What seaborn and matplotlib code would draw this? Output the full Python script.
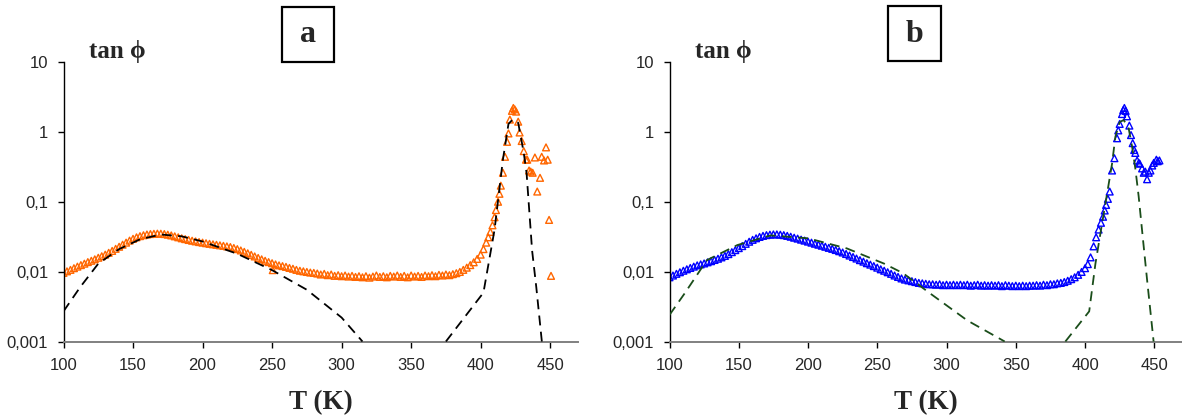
import numpy as np
import pandas as pd
import matplotlib
matplotlib.use("Agg")
import matplotlib.pyplot as plt
from matplotlib.patches import Rectangle
from matplotlib.ticker import NullLocator
import seaborn as sns

# --- data ---
temp_grid = np.arange(100, 400.1, 2.5)

tan_a = [0.0096, 0.0101, 0.0106, 0.0112, 0.0118, 0.0124, 0.0130, 0.0137, 0.0143, 0.0150,
         0.0158, 0.0166, 0.0175, 0.0186, 0.0198, 0.0212, 0.0227, 0.0243, 0.0260, 0.0278,
         0.0295, 0.0310, 0.0322, 0.0332, 0.0340, 0.0345, 0.0348, 0.0350, 0.0349, 0.0345,
         0.0338, 0.0330, 0.0320, 0.0310, 0.0300, 0.0292, 0.0284, 0.0277, 0.0271, 0.0265,
         0.0260, 0.0255, 0.0250, 0.0246, 0.0242, 0.0238, 0.0234, 0.0230, 0.0225, 0.0218,
         0.0210, 0.0201, 0.0192, 0.0183, 0.0174, 0.0165, 0.0157, 0.0150, 0.0143, 0.0137,
         0.0132, 0.0127, 0.0123, 0.0120, 0.0117, 0.0113, 0.0110, 0.0106, 0.0103, 0.0101,
         0.0099, 0.0097, 0.0096, 0.0094, 0.0091, 0.0093, 0.0089, 0.0091, 0.0087, 0.0089,
         0.0086, 0.0088, 0.0085, 0.0087, 0.0084, 0.0086, 0.0083, 0.0086, 0.0082, 0.0085,
         0.0088, 0.0084, 0.0086, 0.0083, 0.0087, 0.0085, 0.0088, 0.0084, 0.0087, 0.0083,
         0.0088, 0.0085, 0.0087, 0.0084, 0.0088, 0.0086, 0.0089, 0.0086, 0.0090, 0.0088,
         0.0091, 0.0089, 0.0092, 0.0095, 0.0099, 0.0106, 0.0114, 0.0124, 0.0136, 0.0152,
         0.0175]
# peak region and stray points of sample a
temp_a_peak = [250.5, 402, 404, 405.5, 407, 408.5, 410, 411, 412.5, 413.5, 414.5, 416, 417.5,
               419, 420, 421, 422.5, 423.5, 424.5, 425.5, 427, 428, 429.5, 431, 432.6,
               433.5, 434.8, 436, 437.4, 439, 440.7, 442.7, 443.9, 445.6, 447, 448.2,
               449.2, 450.6]
tan_a_peak = [0.0105, 0.021, 0.026, 0.031, 0.037, 0.046, 0.060, 0.076, 0.10, 0.13, 0.17, 0.26,
              0.44, 0.72, 0.95, 1.5, 2.0, 2.2, 2.1, 1.95, 1.4, 0.98, 0.74, 0.53, 0.40,
              0.40, 0.28, 0.27, 0.26, 0.43, 0.14, 0.22, 0.44, 0.39, 0.60, 0.40,
              0.055, 0.0087]

tan_b = [0.0083, 0.0088, 0.0093, 0.0098, 0.0103, 0.0108, 0.0113, 0.0118, 0.0123, 0.0127,
         0.0131, 0.0136, 0.0141, 0.0147, 0.0153, 0.0160, 0.0168, 0.0178, 0.0190, 0.0203,
         0.0217, 0.0232, 0.0250, 0.0268, 0.0285, 0.0300, 0.0314, 0.0325, 0.0333, 0.0338,
         0.0341, 0.0341, 0.0338, 0.0333, 0.0325, 0.0316, 0.0306, 0.0297, 0.0287, 0.0278,
         0.0269, 0.0260, 0.0251, 0.0243, 0.0235, 0.0227, 0.0219, 0.0212, 0.0204, 0.0196,
         0.0188, 0.0179, 0.0170, 0.0162, 0.0154, 0.0146, 0.0139, 0.0132, 0.0126, 0.0120,
         0.0114, 0.0108, 0.0103, 0.0098, 0.0093, 0.0088, 0.0084, 0.0080, 0.0077, 0.0075,
         0.0073, 0.0071, 0.0069, 0.0068, 0.0067, 0.0066, 0.0066, 0.0065, 0.0066, 0.0064,
         0.0065, 0.0064, 0.0065, 0.0064, 0.0065, 0.0064, 0.0065, 0.0063, 0.0064, 0.0065,
         0.0063, 0.0064, 0.0063, 0.0064, 0.0063, 0.0064, 0.0062, 0.0064, 0.0063, 0.0062,
         0.0063, 0.0062, 0.0063, 0.0062, 0.0063, 0.0063, 0.0064, 0.0063, 0.0065, 0.0064,
         0.0066, 0.0066, 0.0068, 0.0069, 0.0071, 0.0074, 0.0078, 0.0083, 0.0090, 0.0099,
         0.0112]
temp_b_peak = [402, 404, 406.2, 408, 409.8, 411.5, 413, 414.2, 415.2, 416.5, 417.8, 419.5,
               421.2, 423.1, 424, 425, 426.7, 427.6, 428.4, 429.3, 430.3, 432, 433.2, 434.4,
               435.5, 436.3, 437.6, 438.8, 439.5, 441.2, 442.4, 443.5, 444.8, 446, 447.2,
               448.5, 449.6, 451.5, 452.5, 453.7]
tan_b_peak = [0.0128, 0.016, 0.023, 0.031, 0.040, 0.050, 0.061, 0.075, 0.090, 0.11, 0.14, 0.28,
              0.42, 0.81, 1.05, 1.3, 1.8, 2.05, 2.2, 2.0, 1.67, 1.23, 0.90, 0.69,
              0.55, 0.50, 0.39, 0.36, 0.35, 0.30, 0.26, 0.27, 0.21, 0.26, 0.28,
              0.33, 0.36, 0.40, 0.38, 0.39]

# fitted curves (dashed)
fit_a_low_t = [100, 112, 125, 140, 155, 170, 185, 200, 225, 250, 275, 300, 315]
fit_a_low_v = [0.0027, 0.006, 0.013, 0.021, 0.029, 0.034, 0.032, 0.027, 0.018, 0.0105,
               0.0055, 0.0022, 0.001]
fit_a_high_t = [375, 402, 410, 416, 420, 423, 427, 431, 433, 437, 440, 444]
fit_a_high_v = [0.001, 0.005, 0.04, 0.4, 1.3, 1.5, 1.35, 0.5, 0.26, 0.02, 0.006, 0.001]

fit_b_low_t = [100, 111, 127, 149, 173, 200, 228, 255, 268.6, 288, 315, 342]
fit_b_low_v = [0.0024, 0.0049, 0.0146, 0.024, 0.033, 0.030, 0.0215, 0.013, 0.0095,
               0.0049, 0.002, 0.001]
fit_b_high_t = [385.8, 403, 407.5, 412.3, 415.9, 419.5, 421.9, 425, 427.9, 431.5, 434,
                436.3, 438.7, 441.9, 444.8, 449.5]
fit_b_high_v = [0.001, 0.0027, 0.013, 0.049, 0.13, 0.35, 0.85, 1.38, 1.48, 1.12, 0.61,
                0.3, 0.12, 0.028, 0.0076, 0.001]

y_ticks = [0.001, 0.01, 0.1, 1, 10]
y_tick_labels = ["0,001", "0,01", "0,1", "1", "10"]
x_ticks = [100, 150, 200, 250, 300, 350, 400, 450]

sns.set_style("ticks")
plt.rcParams["font.family"] = ["Liberation Sans", "DejaVu Sans"]
SERIF = ["Liberation Serif", "DejaVu Serif"]


def draw_panel(fig, ax, temps, values, fits, marker_color, line_color, letter, box):
    data = pd.DataFrame({"T": temps, "tan": values})
    ax.set_yscale("log")
    sns.scatterplot(data=data, x="T", y="tan", ax=ax, marker="^", s=24,
                    color=marker_color, facecolor="none", edgecolor=marker_color,
                    linewidth=1.0, zorder=2, legend=False)
    for ft, fv in fits:
        sns.lineplot(x=ft, y=fv, ax=ax, color=line_color, lw=1.3,
                     linestyle=(0, (5.5, 3.5)), errorbar=None, zorder=3)

    ax.set_xlim(100, 470)
    ax.set_ylim(0.001, 10)
    ax.set_xticks(x_ticks)
    ax.set_yticks(y_ticks, y_tick_labels)
    ax.yaxis.set_minor_locator(NullLocator())
    ax.tick_params(axis="both", labelsize=12, direction="out", color="black", width=1)
    ax.tick_params(axis="x", length=4, pad=8)
    ax.tick_params(axis="y", length=4, pad=7)
    ax.set_xlabel("")
    ax.set_ylabel("")
    sns.despine(ax=ax)
    ax.spines["left"].set_color("black")
    ax.spines["left"].set_linewidth(1.0)
    ax.spines["bottom"].set_color("#808080")
    ax.spines["bottom"].set_linewidth(1.4)

    ax.text(0.05, 1.014, "tan ϕ", transform=ax.transAxes, family=SERIF,
            fontweight="bold", fontsize=18, va="baseline", ha="left")
    ax.text(0.5, -0.2415, "T (K)", transform=ax.transAxes, family=SERIF,
            fontweight="bold", fontsize=19.5, va="baseline", ha="center")

    bx, by, bw, bh = box
    fig.patches.append(Rectangle((bx, by), bw, bh, transform=fig.transFigure,
                                 fill=False, edgecolor="black", lw=1.6))
    fig.text(bx + bw / 2, 1 - 41.7 / 419, letter, family=SERIF, fontweight="bold",
             fontsize=23, ha="center", va="baseline")


fig = plt.figure(figsize=(11.82, 4.19), dpi=100)
ax_a = fig.add_axes([63.5 / 1182, 1 - 341.5 / 419, 514.5 / 1182, 279.5 / 419])
ax_b = fig.add_axes([669.5 / 1182, 1 - 341.5 / 419, 512.5 / 1182, 279.5 / 419])

draw_panel(fig, ax_a, list(temp_grid) + temp_a_peak, tan_a + tan_a_peak,
           [(fit_a_low_t, fit_a_low_v), (fit_a_high_t, fit_a_high_v)],
           "#FF6600", "black", "a", (282 / 1182, 1 - 62 / 419, 52 / 1182, 55 / 419))
draw_panel(fig, ax_b, list(temp_grid) + temp_b_peak, tan_b + tan_b_peak,
           [(fit_b_low_t, fit_b_low_v), (fit_b_high_t, fit_b_high_v)],
           "#0000FF", "#1a4d1a", "b", (888 / 1182, 1 - 61 / 419, 53 / 1182, 55 / 419))

fig.savefig("out.png", dpi=100)
